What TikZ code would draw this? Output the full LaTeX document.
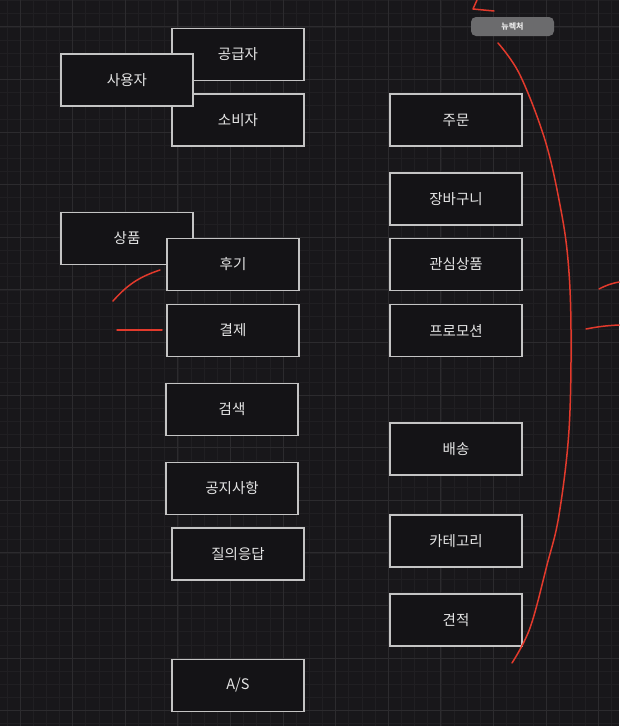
\documentclass[tikz,border=0pt]{standalone}
\usepackage{fontspec}
\setmainfont{Noto Sans CJK KR}
\definecolor{bg}{HTML}{18171A}
\definecolor{gridminor}{HTML}{201F22}
\definecolor{gridmajor}{HTML}{2C2B2E}
\definecolor{boxfill}{HTML}{141316}
\definecolor{boxline}{HTML}{C4C4C4}
\definecolor{pen}{HTML}{E23A2C}
\definecolor{btn}{HTML}{6B6B6D}
\tikzset{
  entity/.style={draw=boxline, line width=1.6pt, fill=boxfill, text=white!90!black,
    minimum width=132pt, minimum height=52pt, inner sep=0pt,
    font=\fontsize{14.5}{17}\selectfont},
  redpen/.style={draw=pen, line width=1.5pt, line cap=round, line join=round},
  minorline/.style={draw=gridminor, line width=0.6pt},
  majorline/.style={draw=gridmajor, line width=0.9pt}
}
\begin{document}
\begin{tikzpicture}[x=1pt, y=-1pt]
	\useasboundingbox[fill=bg] (0,0) rectangle (619,726);%Hintergrund

	\foreach \i in {-1,...,46} {\draw[minorline] ({20+\i*13.15},0) -- ({20+\i*13.15},726);}%Raster vertikal
	\foreach \i in {-2,...,53} {\draw[minorline] (0,{26.8+\i*13.15}) -- (619,{26.8+\i*13.15});}%Raster horizontal
	\foreach \i in {0,...,11} {\draw[majorline] ({20+\i*52.6},0) -- ({20+\i*52.6},726);}
	\foreach \i in {0,...,13} {\draw[majorline] (0,{26.8+\i*52.6}) -- (619,{26.8+\i*52.6});}

	% linke Spalte
	\node[entity] (supplier) at (238,54.5) {공급자};
	\node[entity] (consumer) at (238,120) {소비자};
	\node[entity] (user) at (127,80) {사용자};
	\node[entity] (product) at (127,238.5) {상품};
	\node[entity] (review) at (233,264.5) {후기};
	\node[entity] (payment) at (233,330.5) {결제};
	\node[entity] (search) at (232,409.5) {검색};
	\node[entity] (notice) at (232,488.5) {공지사항};
	\node[entity] (qna) at (238,554) {질의응답};
	\node[entity] (as) at (238,685.5) {A/S};

	% rechte Spalte
	\node[entity] (order) at (456,120) {주문};
	\node[entity] (cart) at (456,199) {장바구니};
	\node[entity] (wish) at (456,264.5) {관심상품};
	\node[entity] (promo) at (456,330.5) {프로모션};
	\node[entity] (delivery) at (456,449) {배송};
	\node[entity] (category) at (456,541) {카테고리};
	\node[entity] (quote) at (456,620) {견적};

	\node[fill=btn, rounded corners=5pt, minimum width=83pt, minimum height=19pt, inner sep=0pt,
	  text=white!92!black, font=\fontsize{8}{9}\selectfont\bfseries] (logo) at (512.5,26.5) {뉴렉처};

	% rote Striche
	\draw[redpen] (477,0) -- (473,9) -- (494,11);
	\draw[redpen] plot[smooth, tension=0.6] coordinates {(498,43) (520,75) (545,140) (560,205) (568,260) (571,330) (569,430) (559,515) (547,565) (530,628) (512,663)};
	\draw[redpen] (599,289) to[bend left=8] (619,282);
	\draw[redpen] (586,329) to[bend left=4] (619,325);
	\draw[redpen] (113,301) to[bend left=15] (160,270);
	\draw[redpen] (117,330) -- (162,330);

\end{tikzpicture}
\end{document}
